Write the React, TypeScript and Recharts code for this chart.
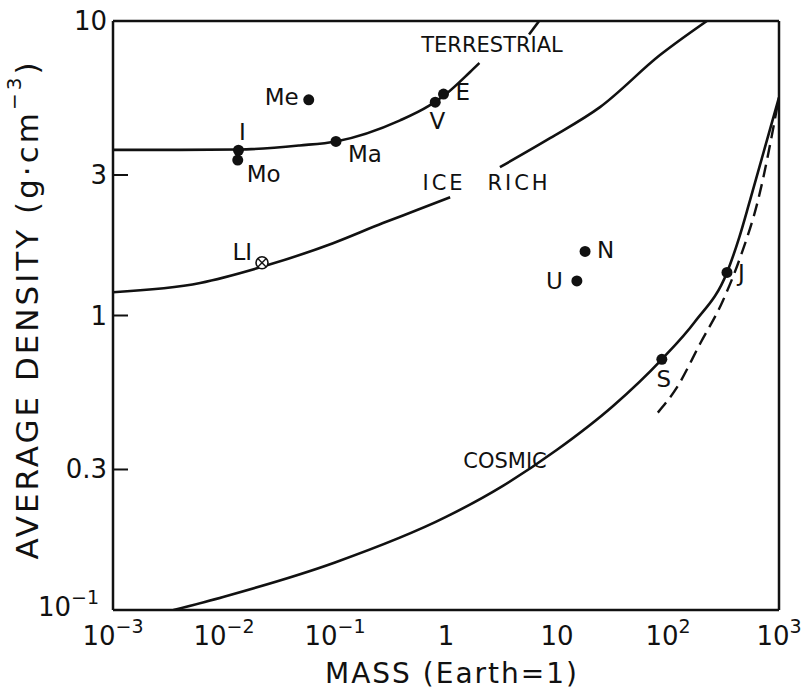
import { ComposedChart, Line, Scatter, XAxis, YAxis, ReferenceLine, ReferenceDot } from 'recharts'

const massTicks = [0.001, 0.01, 0.1, 1, 10, 100, 1000]
const densityTicks = [0.1, 0.3, 1, 3, 10]

// model curves (mass in Earth masses, density g/cm3)
const terrestrialLow = [
  { mass: 0.001, density: 3.65 },
  { mass: 0.004, density: 3.65 },
  { mass: 0.0134, density: 3.66 },
  { mass: 0.048, density: 3.78 },
  { mass: 0.102, density: 3.9 },
  { mass: 0.386, density: 4.6 },
  { mass: 0.7, density: 5.15 },
  { mass: 1.0, density: 5.65 },
  { mass: 1.64, density: 6.7 },
  { mass: 2.0, density: 7.2 },
]
const terrestrialHigh = [
  { mass: 5.6, density: 9.0 },
  { mass: 6.9, density: 10 },
]
const iceRichLow = [
  { mass: 0.001, density: 1.2 },
  { mass: 0.0061, density: 1.29 },
  { mass: 0.0244, density: 1.48 },
  { mass: 0.096, density: 1.76 },
  { mass: 0.27, density: 2.06 },
  { mass: 0.548, density: 2.28 },
  { mass: 1.09, density: 2.52 },
]
const iceRichHigh = [
  { mass: 3.06, density: 3.19 },
  { mass: 8.65, density: 4.0 },
  { mass: 24.4, density: 5.1 },
  { mass: 84.7, density: 7.66 },
  { mass: 224, density: 10 },
]
const cosmic = [
  { mass: 0.0035, density: 0.1 },
  { mass: 0.01, density: 0.111 },
  { mass: 0.1, density: 0.145 },
  { mass: 1, density: 0.207 },
  { mass: 3.2, density: 0.263 },
  { mass: 10, density: 0.35 },
  { mass: 32, density: 0.493 },
  { mass: 88, density: 0.71 },
  { mass: 174, density: 0.95 },
  { mass: 340, density: 1.4 },
  { mass: 440, density: 1.85 },
  { mass: 548, density: 2.46 },
  { mass: 1000, density: 5.5 },
]
const cosmicDashed = [
  { mass: 81, density: 0.468 },
  { mass: 120, density: 0.569 },
  { mass: 194, density: 0.8 },
  { mass: 313, density: 1.125 },
  { mass: 446, density: 1.57 },
  { mass: 647, density: 2.46 },
  { mass: 1000, density: 5.5 },
]

const planets = [
  { name: 'Me', mass: 0.058, density: 5.4 },
  { name: 'V', mass: 0.8, density: 5.3 },
  { name: 'E', mass: 0.95, density: 5.65 },
  { name: 'I', mass: 0.0135, density: 3.64 },
  { name: 'Mo', mass: 0.0133, density: 3.37 },
  { name: 'Ma', mass: 0.102, density: 3.9 },
  { name: 'N', mass: 17.9, density: 1.65 },
  { name: 'U', mass: 15.1, density: 1.31 },
  { name: 'S', mass: 88, density: 0.71 },
  { name: 'J', mass: 340, density: 1.4 },
]
const icySatellites = [{ name: 'LI', mass: 0.022, density: 1.51 }]

const labelPlacement: Record<string, { dx: number; dy: number; anchor: 'start' | 'middle' | 'end' }> = {
  Me: { dx: -10, dy: 5, anchor: 'end' },
  E: { dx: 12, dy: 6, anchor: 'start' },
  V: { dx: 2, dy: 27, anchor: 'middle' },
  I: { dx: 4, dy: -10, anchor: 'middle' },
  Mo: { dx: 9, dy: 22, anchor: 'start' },
  Ma: { dx: 12, dy: 21, anchor: 'start' },
  LI: { dx: -10, dy: -3, anchor: 'end' },
  N: { dx: 12, dy: 7, anchor: 'start' },
  U: { dx: -14, dy: 8, anchor: 'end' },
  S: { dx: 2, dy: 28, anchor: 'middle' },
  J: { dx: 11, dy: 9, anchor: 'start' },
}

const ink = '#111'

function expLabel(v: number) {
  if (v === 1) return { base: '1', exp: '' }
  if (v === 10) return { base: '10', exp: '' }
  const e = Math.round(Math.log10(v))
  return { base: '10', exp: e < 0 ? `−${-e}` : `${e}` }
}

function MassTick(props: any) {
  const { x, y, payload } = props
  const { base, exp } = expLabel(payload.value)
  return (
    <text x={x} y={y + 35} textAnchor="middle" fontSize={26} fill={ink}>
      {base}
      {exp && (
        <tspan dy={-12} fontSize={19}>
          {exp}
        </tspan>
      )}
    </text>
  )
}

function DensityTick(props: any) {
  const { x, y, payload } = props
  const v = payload.value
  const inner = v > 0.1 && v < 10
  return (
    <g>
      {inner && <line x1={x + 6} x2={x + 21} y1={y} y2={y} stroke={ink} strokeWidth={2} />}
      {v === 0.1 ? (
        <text x={x - 8} y={y + 6} textAnchor="end" fontSize={26} fill={ink}>
          10
          <tspan dy={-12} fontSize={19}>
            −1
          </tspan>
        </text>
      ) : (
        <text x={x} y={y + 9} textAnchor="end" fontSize={26} fill={ink}>
          {v === 0.3 ? '0.3' : String(v)}
        </text>
      )}
    </g>
  )
}

function PlanetDot(props: any) {
  const { cx, cy, payload } = props
  const p = labelPlacement[payload.name]
  return (
    <g>
      <circle cx={cx} cy={cy} r={5.5} fill={ink} />
      <text x={cx + p.dx} y={cy + p.dy} textAnchor={p.anchor} fontSize={23} fill={ink}>
        {payload.name}
      </text>
    </g>
  )
}

function SatelliteMark(props: any) {
  const { cx, cy, payload } = props
  const p = labelPlacement[payload.name]
  const d = 4.2
  return (
    <g>
      <circle cx={cx} cy={cy} r={6} fill="#fff" stroke={ink} strokeWidth={1.6} />
      <line x1={cx - d} y1={cy - d} x2={cx + d} y2={cy + d} stroke={ink} strokeWidth={1.4} />
      <line x1={cx - d} y1={cy + d} x2={cx + d} y2={cy - d} stroke={ink} strokeWidth={1.4} />
      <text x={cx + p.dx} y={cy + p.dy} textAnchor={p.anchor} fontSize={23} fill={ink}>
        {payload.name}
      </text>
    </g>
  )
}

function YTitle(props: any) {
  const vb = props.viewBox || { x: 0, y: 21, height: 589 }
  const cx = 27
  const cy = vb.y + vb.height / 2 - 6
  return (
    <text
      transform={`translate(${cx},${cy}) rotate(-90)`}
      textAnchor="middle"
      dominantBaseline="central"
      fontSize={31}
      letterSpacing={3}
      fill={ink}
    >
      AVERAGE DENSITY (g·cm
      <tspan dy={-13} fontSize={20}>
        −3
      </tspan>
      <tspan dy={13}>)</tspan>
    </text>
  )
}

function XTitle(props: any) {
  const vb = props.viewBox || { x: 113, y: 610, width: 666, height: 82 }
  return (
    <text x={vb.x + vb.width / 2 + 6} y={683} textAnchor="middle" fontSize={28} letterSpacing={2} fill={ink}>
      MASS (Earth=1)
    </text>
  )
}

const curveLabel = { fontSize: 21, fill: ink, position: 'center' as const }

export default function App() {
  return (
    <div style={{ position: 'absolute', left: 0, top: 0, background: '#fff', fontFamily: "'DejaVu Sans', sans-serif" }}>
      <ComposedChart width={805} height={692} margin={{ top: 21, right: 26, bottom: 0, left: 0 }}>
        <XAxis
          dataKey="mass"
          type="number"
          scale="log"
          domain={[0.001, 1000]}
          ticks={massTicks}
          allowDataOverflow
          height={82}
          tickSize={0}
          tickMargin={0}
          tickLine={false}
          axisLine={{ stroke: ink, strokeWidth: 2.5 }}
          tick={<MassTick />}
          interval={0}
          label={<XTitle />}
        />
        <YAxis
          dataKey="density"
          type="number"
          scale="log"
          domain={[0.1, 10]}
          ticks={densityTicks}
          allowDataOverflow
          width={113}
          tickSize={0}
          tickMargin={6}
          tickLine={false}
          axisLine={{ stroke: ink, strokeWidth: 2.5 }}
          tick={<DensityTick />}
          interval={0}
          label={<YTitle />}
        />
        <ReferenceLine y={10} stroke={ink} strokeWidth={2.5} />
        <ReferenceLine x={1000} stroke={ink} strokeWidth={2.5} />

        <Line data={terrestrialLow} dataKey="density" type="monotone" stroke={ink} strokeWidth={2.6} dot={false} isAnimationActive={false} />
        <Line data={terrestrialHigh} dataKey="density" type="monotone" stroke={ink} strokeWidth={2.6} dot={false} isAnimationActive={false} />
        <Line data={iceRichLow} dataKey="density" type="monotone" stroke={ink} strokeWidth={2.6} dot={false} isAnimationActive={false} />
        <Line data={iceRichHigh} dataKey="density" type="monotone" stroke={ink} strokeWidth={2.6} dot={false} isAnimationActive={false} />
        <Line data={cosmic} dataKey="density" type="monotone" stroke={ink} strokeWidth={2.6} dot={false} isAnimationActive={false} />
        <Line data={cosmicDashed} dataKey="density" type="monotone" stroke={ink} strokeWidth={2.4} strokeDasharray="13 7" dot={false} isAnimationActive={false} />

        <Scatter data={planets} dataKey="density" shape={<PlanetDot />} isAnimationActive={false} />
        <Scatter data={icySatellites} dataKey="density" shape={<SatelliteMark />} isAnimationActive={false} />

        <ReferenceDot x={2.6} y={8.35} r={1} fill="none" stroke="none" label={{ value: 'TERRESTRIAL', ...curveLabel }} />
        <ReferenceDot x={0.96} y={2.83} r={1} fill="none" stroke="none" label={{ value: 'ICE', letterSpacing: 3, ...curveLabel }} />
        <ReferenceDot x={4.55} y={2.83} r={1} fill="none" stroke="none" label={{ value: 'RICH', letterSpacing: 3, ...curveLabel }} />
        <ReferenceDot x={3.4} y={0.322} r={1} fill="none" stroke="none" label={{ value: 'COSMIC', ...curveLabel }} />
      </ComposedChart>
    </div>
  )
}
